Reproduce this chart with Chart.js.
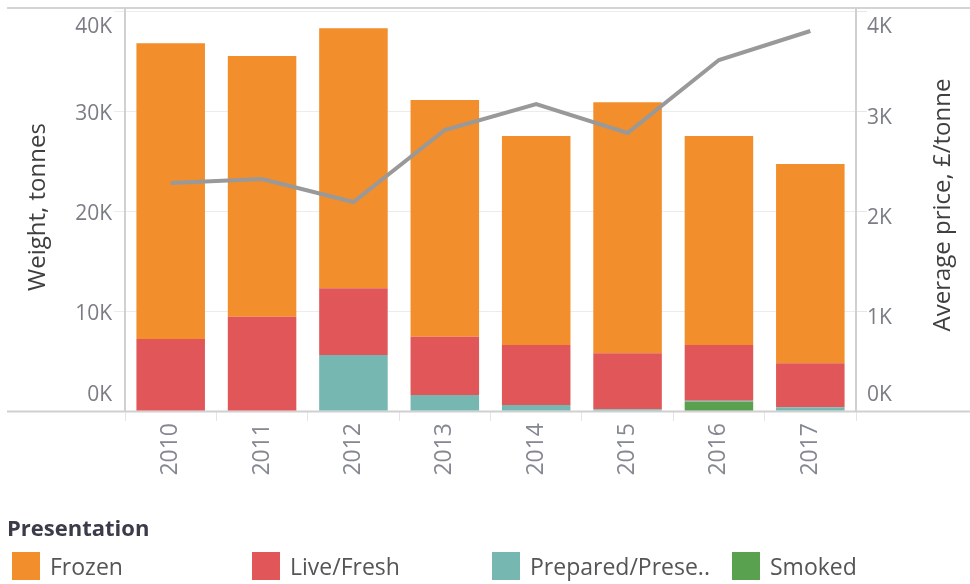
<!DOCTYPE html>
<html>
<head>
<meta charset="utf-8">
<script src="https://cdn.jsdelivr.net/npm/chart.js@4.4.1/dist/chart.umd.min.js"></script>
<style>
  html, body { margin: 0; padding: 0; background: #fff; }
  #wrap { position: relative; width: 970px; height: 584px; font-family: "Open Sans", sans-serif; }
  #chart { position: absolute; left: 0; top: 0; }
  .legend-title { position: absolute; left: 7px; top: 511px; font-size: 22px; font-weight: bold; color: #3b3b4a; line-height: 32px; }
  .item { position: absolute; top: 552px; height: 28px; display: flex; align-items: center; font-size: 23px; color: #555; }
  .item span.sw { display: inline-block; width: 28px; height: 28px; margin-right: 10px; }
</style>
</head>
<body>
<div id="wrap">
  <canvas id="chart" width="970" height="584"></canvas>
  <div class="legend-title">Presentation</div>
  <div id="legend"></div>
</div>
<script>
// year labels
const years = ['2010', '2011', '2012', '2013', '2014', '2015', '2016', '2017'];

// weight by presentation, tonnes
const frozen    = [29570, 26070, 26000, 23670, 20900, 25100, 20900, 19930];
const liveFresh = [7200, 9430, 6670, 5830, 6000, 5600, 5570, 4400];
const prepared  = [0, 0, 5600, 1600, 600, 170, 100, 370];
const smoked    = [0, 0, 0, 0, 0, 0, 930, 0];

// average price, £/tonne
const avgPrice = [2280, 2320, 2090, 2810, 3070, 2780, 3510, 3800];

const weightTicks = [0, 10000, 20000, 30000, 40000];
const priceTicks = [0, 1000, 2000, 3000, 4000];

const colors = {
    frozen: '#f28e2b',
    liveFresh: '#e15759',
    prepared: '#76b7b2',
    smoked: '#59a14f',
    price: '#999999'
};

const legendItems = [
    { label: 'Frozen', color: colors.frozen, x: 12 },
    { label: 'Live/Fresh', color: colors.liveFresh, x: 252 },
    { label: 'Prepared/Prese..', color: colors.prepared, x: 492 },
    { label: 'Smoked', color: colors.smoked, x: 732 }
];

const fmtK = (v) => (v / 1000) + 'K';

// frame lines, tick labels and axis titles the Tableau way
const frame = {
    id: 'frame',
    beforeDatasetsDraw(chart) {
        const { ctx, chartArea } = chart;
        ctx.save();
        ctx.strokeStyle = '#d4d4d4';
        ctx.lineWidth = 2;
        ctx.beginPath();
        ctx.moveTo(7, 8); ctx.lineTo(970, 8);
        ctx.stroke();
        ctx.strokeStyle = '#d0d0d0';
        ctx.beginPath();
        ctx.moveTo(7, chartArea.bottom + 0.5); ctx.lineTo(970, chartArea.bottom + 0.5);
        ctx.moveTo(chartArea.left, 8); ctx.lineTo(chartArea.left, chartArea.bottom);
        ctx.moveTo(chartArea.right, 8); ctx.lineTo(chartArea.right, chartArea.bottom);
        ctx.stroke();
        ctx.restore();
    },
    afterDraw(chart) {
        const { ctx } = chart;
        const y = chart.scales.y, y2 = chart.scales.y2;
        ctx.save();
        ctx.font = '21px "Open Sans"';
        ctx.fillStyle = '#7b7d86';
        ctx.textBaseline = 'middle';
        const shift = (i, n) => (i === 0 ? -16 : i === n - 1 ? 16 : 3);
        ctx.textAlign = 'right';
        weightTicks.forEach((v, i) => {
            ctx.fillText(fmtK(v), 112, y.getPixelForValue(v) + shift(i, weightTicks.length));
        });
        ctx.textAlign = 'left';
        priceTicks.forEach((v, i) => {
            ctx.fillText(fmtK(v), 867, y2.getPixelForValue(v) + shift(i, priceTicks.length) + (i > 0 && i < priceTicks.length - 1 ? 4 : 0));
        });

        ctx.font = '24px "Open Sans"';
        ctx.fillStyle = '#3f3f3f';
        ctx.textAlign = 'center';
        ctx.save();
        ctx.translate(38, 207);
        ctx.rotate(-Math.PI / 2);
        ctx.fillText('Weight, tonnes', 0, 0);
        ctx.restore();
        ctx.save();
        ctx.translate(943, 205);
        ctx.rotate(-Math.PI / 2);
        ctx.fillText('Average price, £/tonne', 0, 0);
        ctx.restore();
        ctx.restore();
    }
};

const barSet = (label, data, color) => ({
    type: 'bar',
    label,
    data,
    backgroundColor: color,
    borderWidth: 0,
    yAxisID: 'y',
    order: 1,
    barPercentage: 0.75,
    categoryPercentage: 1
});

new Chart(document.getElementById('chart'), {
    data: {
        labels: years,
        datasets: [
            {
                type: 'line',
                label: 'Average price',
                data: avgPrice,
                borderColor: colors.price,
                borderWidth: 4,
                pointRadius: 0,
                fill: false,
                tension: 0,
                yAxisID: 'y2',
                order: 0
            },
            // stacked bottom to top
            barSet('Smoked', smoked, colors.smoked),
            barSet('Prepared/Preserved', prepared, colors.prepared),
            barSet('Live/Fresh', liveFresh, colors.liveFresh),
            barSet('Frozen', frozen, colors.frozen)
        ]
    },
    options: {
        responsive: false,
        animation: false,
        layout: { padding: { top: 11, left: 0, right: 0, bottom: 0 } },
        plugins: {
            legend: { display: false },
            tooltip: { enabled: false }
        },
        scales: {
            x: {
                stacked: true,
                offset: true,
                grid: {
                    offset: true,
                    drawOnChartArea: false,
                    tickLength: 10,
                    color: '#e4e4e4'
                },
                border: { display: false },
                ticks: {
                    minRotation: 90,
                    maxRotation: 90,
                    padding: 2,
                    color: '#858791',
                    font: { family: 'Open Sans', size: 23 }
                },
                afterFit: (s) => { s.height = 173; }
            },
            y: {
                stacked: true,
                position: 'left',
                min: 0,
                max: 40000,
                afterBuildTicks: (s) => { s.ticks = weightTicks.map(v => ({ value: v })); },
                ticks: { display: false },
                grid: {
                    color: (c) => (c.tick && c.tick.value === 0 ? 'rgba(0,0,0,0)' : '#ececec'),
                    tickLength: 11
                },
                border: { display: false },
                afterFit: (s) => { s.width = 125; }
            },
            y2: {
                position: 'right',
                min: 0,
                max: 4000,
                afterBuildTicks: (s) => { s.ticks = priceTicks.map(v => ({ value: v })); },
                ticks: { display: false },
                grid: {
                    drawOnChartArea: false,
                    color: (c) => (c.tick && c.tick.value === 0 ? 'rgba(0,0,0,0)' : '#e6e6e6'),
                    tickLength: 11
                },
                border: { display: false },
                afterFit: (s) => { s.width = 114; }
            }
        }
    },
    plugins: [frame]
});

// legend below the chart
const legend = document.getElementById('legend');
legendItems.forEach((it) => {
    const d = document.createElement('div');
    d.className = 'item';
    d.style.left = it.x + 'px';
    d.innerHTML = '<span class="sw" style="background:' + it.color + '"></span>' + it.label;
    legend.appendChild(d);
});
</script>
</body>
</html>
